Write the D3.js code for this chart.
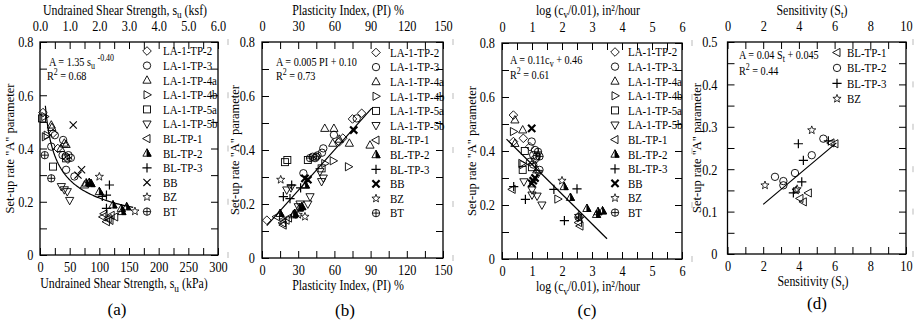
<!DOCTYPE html>
<html>
<head>
<meta charset="utf-8">
<script src="https://cdn.jsdelivr.net/npm/d3@7"></script>
<style>
  body { margin: 0; background: #fff; }
  svg { display: block; }
</style>
</head>
<body>
<svg id="chart" width="917" height="321"></svg>
<script>
// ---------- data ----------
const seriesNames = ['LA-1-TP-2', 'LA-1-TP-3', 'LA-1-TP-4a', 'LA-1-TP-4b', 'LA-1-TP-5a', 'LA-1-TP-5b',
  'BL-TP-1', 'BL-TP-2', 'BL-TP-3', 'BB', 'BZ', 'BT'];
const seriesShapes = ['diamond', 'circle', 'triUp', 'triRight', 'square', 'triDown',
  'triLeft', 'triHalf', 'plus', 'cross', 'star', 'circlePlus'];

// (a) undrained shear strength su (kPa) vs A
const suPoints = {
  'LA-1-TP-2': [[5, 0.535], [22, 0.457], [30, 0.40], [47, 0.36]],
  'LA-1-TP-3': [[25, 0.45], [39, 0.432], [19, 0.407], [38, 0.375], [43, 0.37], [48, 0.375], [44, 0.32], [58, 0.295], [52, 0.365]],
  'LA-1-TP-4a': [[19, 0.488], [20, 0.479], [41, 0.42], [44, 0.415], [75, 0.263], [35, 0.40]],
  'LA-1-TP-4b': [[8, 0.52], [9, 0.444], [12, 0.45]],
  'LA-1-TP-5a': [[3.4, 0.513], [22, 0.332], [44, 0.363]],
  'LA-1-TP-5b': [[36, 0.257], [41, 0.245], [46, 0.238], [50, 0.205]],
  'BL-TP-1': [[106, 0.143], [115, 0.137], [120, 0.149], [126, 0.143], [112, 0.125], [118, 0.13], [108, 0.155]],
  'BL-TP-2': [[78, 0.27], [83, 0.272], [86, 0.268], [100, 0.238], [123, 0.188], [137, 0.175], [138, 0.163], [146, 0.181]],
  'BL-TP-3': [[117, 0.263], [112, 0.225], [112, 0.175], [105, 0.22]],
  'BB': [[56, 0.488], [64, 0.30], [70, 0.32]],
  'BZ': [[100, 0.294], [160, 0.164]],
  'BT': [[8, 0.375], [19, 0.288]]
};

// (b) plasticity index PI (%) vs A
const piPoints = {
  'LA-1-TP-2': [[82.6, 0.536], [75, 0.515], [67, 0.444], [64, 0.43], [4, 0.14]],
  'LA-1-TP-3': [[78.5, 0.517], [59.6, 0.456], [50.8, 0.406], [49.7, 0.39], [42, 0.375], [44, 0.37], [46, 0.38], [34.3, 0.314]],
  'LA-1-TP-4a': [[52, 0.48], [59.6, 0.48], [58.6, 0.425], [72.4, 0.425], [89.5, 0.418], [64, 0.44]],
  'LA-1-TP-4b': [[52, 0.35], [59, 0.36], [71.6, 0.338]],
  'LA-1-TP-5a': [[19, 0.355], [21, 0.363], [38, 0.363], [49.4, 0.332]],
  'LA-1-TP-5b': [[48, 0.32], [50.8, 0.296], [49.4, 0.283], [20.5, 0.252], [24, 0.26], [39.8, 0.227], [31.5, 0.2], [30, 0.19], [38, 0.2]],
  'BL-TP-1': [[12, 0.153], [17.6, 0.122], [20, 0.14], [22, 0.148], [17, 0.13]],
  'BL-TP-2': [[15, 0.165], [26, 0.16], [27, 0.165], [36, 0.27], [31, 0.185], [33, 0.19]],
  'BL-TP-3': [[24.6, 0.27], [17.7, 0.227], [23.2, 0.22], [32, 0.26]],
  'BB': [[76, 0.474], [35.6, 0.295], [38, 0.29]],
  'BZ': [[15.5, 0.29], [17.4, 0.14], [35.6, 0.153], [30, 0.16]],
  'BT': [[39.8, 0.37], [45, 0.375]]
};

// (c) log(cv/0.01) vs A
const cvPoints = {
  'LA-1-TP-2': [[0.38, 0.533], [0.71, 0.447], [0.38, 0.435], [0.93, 0.416]],
  'LA-1-TP-3': [[0.99, 0.435], [1.1, 0.404], [1.04, 0.385], [1.16, 0.38], [0.93, 0.36], [1.04, 0.35], [1.1, 0.37], [1.25, 0.33]],
  'LA-1-TP-4a': [[0.43, 0.515], [0.69, 0.478], [0.43, 0.428], [1.16, 0.33]],
  'LA-1-TP-4b': [[0.38, 0.472], [0.66, 0.354], [1.86, 0.222], [0.7, 0.35]],
  'LA-1-TP-5a': [[0.76, 0.40], [0.69, 0.33], [1.0, 0.34]],
  'LA-1-TP-5b': [[0.73, 0.286], [1.0, 0.256], [1.0, 0.237], [1.17, 0.233], [1.33, 0.2], [1.21, 0.317]],
  'BL-TP-1': [[0.34, 0.258], [2.6, 0.122], [2.55, 0.135]],
  'BL-TP-2': [[2.07, 0.268], [2.28, 0.228], [2.83, 0.187], [3.15, 0.165], [3.2, 0.175], [3.35, 0.178]],
  'BL-TP-3': [[0.39, 0.268], [0.78, 0.221], [1.73, 0.258], [2.5, 0.26], [2.08, 0.142]],
  'BB': [[0.99, 0.484], [1.04, 0.29], [0.99, 0.28], [1.1, 0.3]],
  'BZ': [[2.0, 0.29], [2.55, 0.16], [2.6, 0.15]],
  'BT': [[1.2, 0.397], [1.25, 0.38], [2.55, 0.155]]
};

// (d) sensitivity St vs A
const stNames = ['BL-TP-1', 'BL-TP-2', 'BL-TP-3', 'BZ'];
const stShapes = ['triLeft', 'circle', 'plus', 'star'];
const stPoints = {
  'BL-TP-1': [[6.02, 0.26], [4.06, 0.131], [4.53, 0.144], [4.25, 0.123], [5.8, 0.262]],
  'BL-TP-2': [[5.37, 0.272], [4.72, 0.233], [3.78, 0.191], [2.66, 0.182], [3.13, 0.172], [3.13, 0.162]],
  'BL-TP-3': [[5.65, 0.267], [3.97, 0.26], [4.25, 0.221], [4.16, 0.17], [3.69, 0.144]],
  'BZ': [[4.72, 0.292], [2.1, 0.162], [3.84, 0.15], [3.9, 0.153]]
};

// fitted lines
const suFitCoef = [1.35, -0.40];      // A = 1.35 su^-0.40
const suFitRange = [9, 157];
const piFitLine = [[4, 0.12], [91, 0.555]];
const cvFitLine = [[0.15, 0.444], [3.5, 0.075]];
const stFitLine = [[2, 0.117], [6.1, 0.262]];

// ticks
const yTicks8 = [0, 0.1, 0.2, 0.3, 0.4, 0.5, 0.6, 0.7, 0.8];
const yLabels8 = ['0', '', '0.2', '', '0.4', '', '0.6', '', '0.8'];
const yTicks5 = [0, 0.05, 0.1, 0.15, 0.2, 0.25, 0.3, 0.35, 0.4, 0.45, 0.5];
const yLabels5 = ['0', '', '0.1', '', '0.2', '', '0.3', '', '0.4', '', '0.5'];
const suTicks = [0, 25, 50, 75, 100, 125, 150, 175, 200, 225, 250, 275, 300];
const suLabels = ['0', '', '50', '', '100', '', '150', '', '200', '', '250', '', '300'];
const ksfTicks = [0, 0.5, 1, 1.5, 2, 2.5, 3, 3.5, 4, 4.5, 5, 5.5, 6];
const ksfLabels = ['0.0', '', '1.0', '', '2.0', '', '3.0', '', '4.0', '', '5.0', '', '6.0'];
const piTicks = [0, 15, 30, 45, 60, 75, 90, 105, 120, 135, 150];
const piLabels = ['0', '', '30', '', '60', '', '90', '', '120', '', '150'];
const cvTicks = [0, 0.5, 1, 1.5, 2, 2.5, 3, 3.5, 4, 4.5, 5, 5.5, 6];
const cvLabels = ['0', '', '1', '', '2', '', '3', '', '4', '', '5', '', '6'];
const stTicks = [0, 1, 2, 3, 4, 5, 6, 7, 8, 9, 10];
const stLabels = ['0', '', '2', '', '4', '', '6', '', '8', '', '10'];

// ---------- drawing ----------
const FONT = '"Liberation Serif", "Times New Roman", serif';
const SX = 0.85;
const TICK_SX = 0.82;
const svg = d3.select('#chart');

function richText(g, x, y, parts, size, anchor, sx) {
  const t = g.append('text')
    .attr('transform', `translate(${x},${y}) scale(${sx},1)`)
    .attr('text-anchor', anchor)
    .attr('font-family', FONT)
    .attr('font-size', size)
    .attr('fill', '#000');
  let shift = 0;
  parts.forEach(p => {
    const [s, kind] = typeof p === 'string' ? [p, 'n'] : p;
    const target = kind === 'sub' ? size * 0.25 : kind === 'sup' ? -size * 0.38 : 0;
    t.append('tspan')
      .attr('dy', target - shift)
      .attr('font-size', kind === 'n' ? size : size * 0.78)
      .text(s);
    shift = target;
  });
  return t;
}

function starPath(ro, ri) {
  const pts = [];
  for (let i = 0; i < 10; i++) {
    const r = i % 2 === 0 ? ro : ri;
    const a = -Math.PI / 2 + i * Math.PI / 5;
    pts.push([r * Math.cos(a), r * Math.sin(a)]);
  }
  return 'M' + pts.map(p => p[0].toFixed(2) + ',' + p[1].toFixed(2)).join('L') + 'Z';
}

function drawMarker(g, shape, cx, cy, bold) {
  const m = g.append('g')
    .attr('transform', `translate(${cx},${cy})`)
    .attr('fill', 'none')
    .attr('stroke', '#000')
    .attr('stroke-width', 0.9);
  switch (shape) {
    case 'diamond': m.append('path').attr('d', 'M0,-4.3L4.3,0L0,4.3L-4.3,0Z'); break;
    case 'circle': m.append('circle').attr('r', 3.7); break;
    case 'triUp': m.append('path').attr('d', 'M0,-4.4L4.1,3L-4.1,3Z'); break;
    case 'triDown': m.append('path').attr('d', 'M0,4.4L4.1,-3L-4.1,-3Z'); break;
    case 'triRight': m.append('path').attr('d', 'M4.4,0L-3,-4.1L-3,4.1Z'); break;
    case 'triLeft': m.append('path').attr('d', 'M-4.4,0L3,-4.1L3,4.1Z'); break;
    case 'square': m.append('rect').attr('x', -3.5).attr('y', -3.5).attr('width', 7).attr('height', 7); break;
    case 'triHalf':
      m.append('path').attr('d', 'M0,-4.4L4.1,3L-4.1,3Z');
      m.append('path').attr('d', 'M0,-4.4L4.1,3L0,3Z').attr('fill', '#000');
      break;
    case 'plus': m.append('path').attr('d', 'M-4.6,0H4.6M0,-4.6V4.6').attr('stroke-width', 1.2); break;
    case 'cross': m.append('path').attr('d', 'M-3.6,-3.6L3.6,3.6M-3.6,3.6L3.6,-3.6').attr('stroke-width', bold ? 2.2 : 1.1); break;
    case 'star': m.append('path').attr('d', starPath(4.3, 1.8)).attr('stroke-width', 0.8); break;
    case 'circlePlus':
      m.append('circle').attr('r', 3.7);
      m.append('path').attr('d', 'M-3.7,0H3.7M0,-3.7V3.7');
      break;
  }
}

function styleAxis(g) {
  g.attr('font-family', FONT).attr('font-size', 15);
  g.select('.domain').remove();
  g.selectAll('.tick line').attr('stroke', '#000').attr('stroke-width', 1);
  g.selectAll('.tick text').attr('fill', '#000').attr('transform', `scale(${TICK_SX},1)`);
}

const panels = [
  {
    left: 40, right: 218, top: 42, bottom: 255,
    xDomain: [0, 300], xTicks: suTicks, xLabels: suLabels,
    topDomain: [0, 6], topTicks: ksfTicks, topLabels: ksfLabels,
    yDomain: [0, 0.8], yTicks: yTicks8, yLabels: yLabels8, yGap: 6.5,
    names: seriesNames, shapes: seriesShapes, points: suPoints, boldCross: false,
    topTitle: ['Undrained Shear Strength, s', ['u', 'sub'], ' (ksf)'], topTitleX: 125,
    bottomTitle: ['Undrained Shear Strength, s', ['u', 'sub'], ' (kPa)'], bottomTitleX: 124, bottomTitleY: 288,
    yTitleX: 14, letter: '(a)', letterX: 117, letterY: 315,
    legendX: 147, legendTextX: 163, legendY: 51, legendStep: 14.6,
    eq: ['A = 1.35 s', ['u', 'sub'], ' ', ['-0.40', 'sup']], eqX: 49, eqY: 66,
    r2: ['R', ['2', 'sup'], ' = 0.68'], r2X: 47, r2Y: 80,
    ghostX: 228
  },
  {
    left: 262, right: 443, top: 42, bottom: 258,
    xDomain: [0, 150], xTicks: piTicks, xLabels: piLabels,
    topDomain: [0, 150], topTicks: piTicks, topLabels: piLabels,
    yDomain: [0, 0.8], yTicks: yTicks8, yLabels: yLabels8, yGap: 7,
    names: seriesNames, shapes: seriesShapes, points: piPoints, boldCross: true,
    topTitle: ['Plasticity Index, (PI) %'], topTitleX: 348,
    bottomTitle: ['Plasticity Index, (PI) %'], bottomTitleX: 348, bottomTitleY: 290,
    yTitleX: 239, letter: '(b)', letterX: 345, letterY: 316,
    legendX: 376, legendTextX: 390, legendY: 52.5, legendStep: 14.6,
    eq: ['A = 0.005 PI + 0.10'], eqX: 276, eqY: 65.5,
    r2: ['R', ['2', 'sup'], ' = 0.73'], r2X: 276, r2Y: 80,
    ghostX: 453
  },
  {
    left: 502, right: 682, top: 43, bottom: 259,
    xDomain: [0, 6], xTicks: cvTicks, xLabels: cvLabels,
    topDomain: [0, 6], topTicks: cvTicks, topLabels: cvLabels,
    yDomain: [0, 0.8], yTicks: yTicks8, yLabels: yLabels8, yGap: 7,
    names: seriesNames, shapes: seriesShapes, points: cvPoints, boldCross: true,
    topTitle: ['log (c', ['v', 'sub'], '/0.01), in²/hour'], topTitleX: 588,
    bottomTitle: ['log (c', ['v', 'sub'], '/0.01), in²/hour'], bottomTitleX: 588, bottomTitleY: 291,
    yTitleX: 476, letter: '(c)', letterX: 587, letterY: 316,
    legendX: 615, legendTextX: 628, legendY: 52, legendStep: 14.6,
    eq: ['A = 0.11c', ['v', 'sub'], ' + 0.46'], eqX: 510, eqY: 64,
    r2: ['R', ['2', 'sup'], ' = 0.61'], r2X: 510, r2Y: 79,
    ghostX: 692
  },
  {
    left: 727.5, right: 906, top: 42, bottom: 254,
    xDomain: [0, 10], xTicks: stTicks, xLabels: stLabels,
    topDomain: [0, 10], topTicks: stTicks, topLabels: stLabels,
    yDomain: [0, 0.5], yTicks: yTicks5, yLabels: yLabels5, yGap: 10,
    names: stNames, shapes: stShapes, points: stPoints, boldCross: false,
    topTitle: ['Sensitivity (S', ['t', 'sub'], ')'], topTitleX: 812,
    bottomTitle: ['Sensitivity (S', ['t', 'sub'], ')'], bottomTitleX: 813, bottomTitleY: 286,
    yTitleX: 701, letter: '(d)', letterX: 817, letterY: 309,
    legendX: 837, legendTextX: 847, legendY: 52.5, legendStep: 15.4,
    eq: ['A = 0.04 S', ['t', 'sub'], ' + 0.045'], eqX: 739, eqY: 59,
    r2: ['R', ['2', 'sup'], ' = 0.44'], r2X: 739, r2Y: 74.5,
    ghostX: 913
  }
];

const fits = [
  { type: 'power', coef: suFitCoef, range: suFitRange },
  { type: 'line', pts: piFitLine },
  { type: 'line', pts: cvFitLine },
  { type: 'line', pts: stFitLine }
];

panels.forEach((p, pi) => {
  const g = svg.append('g');
  const x = d3.scaleLinear().domain(p.xDomain).range([p.left, p.right]);
  const xTop = d3.scaleLinear().domain(p.topDomain).range([p.left, p.right]);
  const y = d3.scaleLinear().domain(p.yDomain).range([p.bottom, p.top]);

  // axes (ticks point inward)
  g.append('g')
    .attr('transform', `translate(0,${p.bottom})`)
    .call(d3.axisBottom(x).tickValues(p.xTicks).tickFormat((d, i) => p.xLabels[i]).tickSize(-7).tickPadding(6))
    .call(styleAxis);
  g.append('g')
    .attr('transform', `translate(0,${p.top})`)
    .call(d3.axisTop(xTop).tickValues(p.topTicks).tickFormat((d, i) => p.topLabels[i]).tickSize(-7).tickPadding(11.5))
    .call(styleAxis);
  g.append('g')
    .attr('transform', `translate(${p.left},0)`)
    .call(d3.axisLeft(y).tickValues(p.yTicks).tickFormat((d, i) => p.yLabels[i]).tickSize(-7).tickPadding(p.yGap / TICK_SX))
    .call(styleAxis);
  g.append('g')
    .attr('transform', `translate(${p.right},0)`)
    .call(d3.axisRight(y).tickValues(p.yTicks).tickFormat('').tickSize(-7))
    .call(styleAxis);

  // frame
  g.append('rect')
    .attr('x', p.left).attr('y', p.top)
    .attr('width', p.right - p.left).attr('height', p.bottom - p.top)
    .attr('fill', 'none').attr('stroke', '#000').attr('stroke-width', 1.3);

  // faint marks right of the frame
  p.yTicks.forEach((v, i) => {
    if (p.yLabels[i] === '') return;
    g.append('line')
      .attr('x1', p.ghostX).attr('x2', p.ghostX)
      .attr('y1', y(v) - 3).attr('y2', y(v) + 3)
      .attr('stroke', '#bbb').attr('stroke-width', 1);
  });

  // fit line
  const f = fits[pi];
  let fitData;
  if (f.type === 'power') {
    fitData = d3.range(f.range[0], f.range[1] + 0.01, 2).map(s => [s, f.coef[0] * Math.pow(s, f.coef[1])]);
  } else {
    fitData = f.pts;
  }
  g.append('path')
    .datum(fitData)
    .attr('fill', 'none').attr('stroke', '#000').attr('stroke-width', 1.2)
    .attr('d', d3.line().x(d => x(d[0])).y(d => y(d[1])));

  // points
  p.names.forEach((name, si) => {
    (p.points[name] || []).forEach(d => {
      drawMarker(g, p.shapes[si], x(d[0]), y(d[1]), p.boldCross);
    });
  });

  // legend
  p.names.forEach((name, si) => {
    const ly = p.legendY + si * p.legendStep;
    drawMarker(g, p.shapes[si], p.legendX, ly, p.boldCross);
    richText(g, p.legendTextX, ly + 4.3, [name], 13, 'start', 0.84);
  });

  // equation text
  richText(g, p.eqX, p.eqY, p.eq, 12, 'start', SX);
  richText(g, p.r2X, p.r2Y, p.r2, 12, 'start', SX);

  // titles
  richText(g, p.topTitleX, 14.5, p.topTitle, 14, 'middle', SX);
  richText(g, p.bottomTitleX, p.bottomTitleY, p.bottomTitle, 14, 'middle', SX);
  g.append('text')
    .attr('transform', `translate(${p.yTitleX},${(p.top + p.bottom) / 2}) rotate(-90)`)
    .attr('text-anchor', 'middle')
    .attr('font-family', FONT)
    .attr('font-size', 12.5)
    .text('Set-up rate "A" parameter');
  g.append('text')
    .attr('x', p.letterX).attr('y', p.letterY)
    .attr('text-anchor', 'middle')
    .attr('font-family', FONT)
    .attr('font-size', 17)
    .text(p.letter);
});
</script>
</body>
</html>
